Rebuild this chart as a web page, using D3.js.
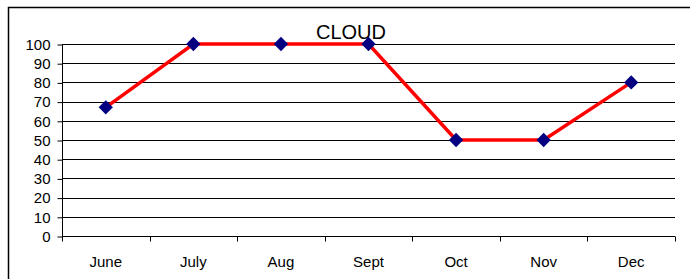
<!DOCTYPE html>
<html lang="en">
<head>
    <meta charset="UTF-8">
    <script src="https://d3js.org/d3.v7.min.js"></script>
    <title>CLOUD</title>
    <style>
    body { margin: 0; background: #fff; }
    svg text { font-family: "Liberation Sans", Arial, sans-serif; }
    </style>
</head>
<body>
    <div class="content"></div>
    <script>
    // data
    var months = ['June', 'July', 'Aug', 'Sept', 'Oct', 'Nov', 'Dec'];
    var cloud = [67, 100, 100, 100, 50, 50, 80];
    var yTicks = [0, 10, 20, 30, 40, 50, 60, 70, 80, 90, 100];
    var title = 'CLOUD';

    var p = {
        w: 690,
        h: 279,
        left: 62,
        right: 675,
        top: 44,
        bottom: 236
    };

    var svg = d3.select('.content')
        .append('svg')
        .attr('width', p.w)
        .attr('height', p.h);

    // khung ngoai
    svg.append('rect')
        .attr('x', 8.5).attr('y', 7.5)
        .attr('width', 700).attr('height', 300)
        .attr('fill', 'none')
        .attr('stroke', '#000')
        .attr('stroke-width', 1.5);

    var x = d3.scaleBand().domain(months).range([p.left, p.right]);
    var y = d3.scaleLinear().domain([0, 100]).range([p.bottom, p.top]);

    // luoi ngang
    svg.append('g')
        .selectAll('line')
        .data(yTicks.slice(1))
        .enter().append('line')
        .attr('x1', p.left).attr('x2', p.right)
        .attr('y1', function(d) { return Math.round(y(d)) + 0.5; })
        .attr('y2', function(d) { return Math.round(y(d)) + 0.5; })
        .attr('stroke', '#000')
        .attr('stroke-width', 1);

    // truc y
    var yAxis = svg.append('g')
        .attr('transform', 'translate(' + (p.left + 0.5) + ',0.5)')
        .call(d3.axisLeft(y).tickValues(yTicks).tickSize(5).tickPadding(7));
    yAxis.selectAll('text').attr('font-size', 15).attr('fill', '#000').attr('font-family', 'Liberation Sans, Arial, sans-serif');
    yAxis.selectAll('line, path').attr('stroke', '#000');
    yAxis.select('path').attr('d', 'M0,' + (p.top - 0.5) + 'V' + (p.bottom));

    // truc x
    var xAxis = svg.append('g')
        .attr('transform', 'translate(0,' + (p.bottom + 0.5) + ')');
    xAxis.append('line')
        .attr('x1', p.left).attr('x2', p.right)
        .attr('stroke', '#000');
    xAxis.selectAll('.tk')
        .data(months.concat(['end']))
        .enter().append('line')
        .attr('class', 'tk')
        .attr('x1', function(d, i) { return Math.round(i < months.length ? x(d) : p.right) + 0.5; })
        .attr('x2', function(d, i) { return Math.round(i < months.length ? x(d) : p.right) + 0.5; })
        .attr('y1', 0).attr('y2', 5)
        .attr('stroke', '#000');
    xAxis.selectAll('text')
        .data(months)
        .enter().append('text')
        .attr('x', function(d) { return x(d) + x.bandwidth() / 2; })
        .attr('y', 30)
        .attr('text-anchor', 'middle')
        .attr('font-size', 15)
        .text(function(d) { return d; });

    // duong
    var line = d3.line()
        .x(function(d, i) { return x(months[i]) + x.bandwidth() / 2; })
        .y(function(d) { return y(d); });
    svg.append('path')
        .datum(cloud)
        .attr('d', line)
        .attr('fill', 'none')
        .attr('stroke', '#ff0000')
        .attr('stroke-width', 3.5);

    // diem
    svg.selectAll('.mk')
        .data(cloud)
        .enter().append('path')
        .attr('class', 'mk')
        .attr('d', d3.symbol().type(d3.symbolDiamond2).size(130))
        .attr('transform', function(d, i) {
            return 'translate(' + (x(months[i]) + x.bandwidth() / 2) + ',' + y(d) + ')';
        })
        .attr('fill', '#000080');

    svg.append('text')
        .attr('x', 351)
        .attr('y', 39)
        .attr('text-anchor', 'middle')
        .attr('font-size', 20)
        .text(title);
    </script>
</body>
</html>
